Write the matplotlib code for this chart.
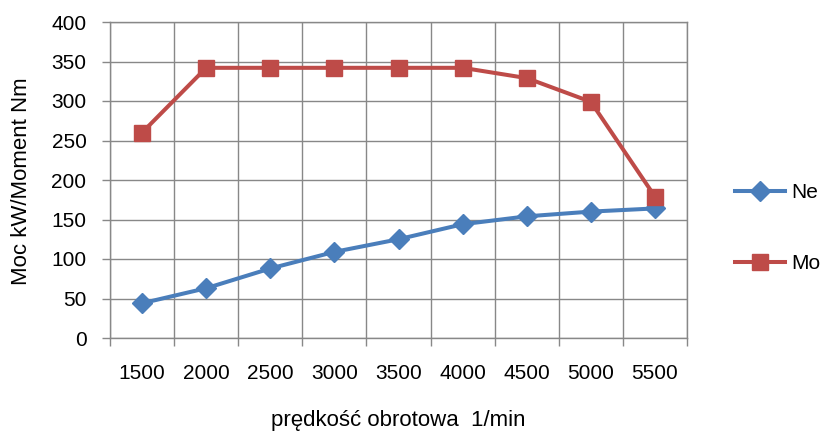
import matplotlib
matplotlib.use('Agg')
import matplotlib.pyplot as plt

plt.rcParams['font.family'] = ['Liberation Sans', 'DejaVu Sans']

rpm = ['1500', '2000', '2500', '3000', '3500', '4000', '4500', '5000', '5500']
ne = [44, 63, 88, 109, 125, 144, 154, 160, 164]
mo = [260, 342, 342, 342, 342, 342, 329, 299, 179]

blue = '#4A7EBB'
red = '#BE4B48'
grey = '#888888'
fs = 15

fig = plt.figure(figsize=(8.23, 4.32), dpi=100)
ax = fig.add_axes([110/823, 94/432, 577/823, 316/432])

x = list(range(len(rpm)))
ax.plot(x, ne, color=blue, lw=2.9, marker='D', ms=10, label='Ne', zorder=3)
ax.plot(x, mo, color=red, lw=2.9, marker='s', ms=12, label='Mo', zorder=3)

ax.set_xlim(-0.5, len(rpm) - 0.5)
ax.set_ylim(0, 400)
ax.set_yticks(range(0, 401, 50))
ax.set_xticks(x)
ax.set_xticklabels(rpm)
ax.set_xticks([i - 0.5 for i in range(len(rpm) + 1)], minor=True)

ax.tick_params(axis='x', which='major', length=0, pad=19, labelsize=fs)
ax.tick_params(axis='x', which='minor', length=6, color=grey, width=1)
ax.tick_params(axis='y', length=6, color=grey, width=1, labelsize=fs, pad=11)

ax.grid(True, axis='y', which='major', color=grey, lw=1)
ax.grid(True, axis='x', which='minor', color=grey, lw=1)
ax.set_axisbelow(True)
for s in ax.spines.values():
    s.set_color(grey)
    s.set_linewidth(1)

fig.text(22/823, (432-181)/432, 'Moc kW/Moment Nm', fontsize=16,
         rotation=90, ha='center', va='center')
fig.text(398/823, 1/432, 'prędkość obrotowa  1/min', fontsize=16,
         ha='center', va='bottom')

fig.legend(loc='center left', bbox_to_anchor=(735/823, (432-228)/432),
           bbox_transform=fig.transFigure, frameon=False, fontsize=fs,
           handlelength=2.4, handletextpad=0.3, labelspacing=2.5,
           borderpad=0, borderaxespad=0)

fig.savefig('out.png', dpi=100)
